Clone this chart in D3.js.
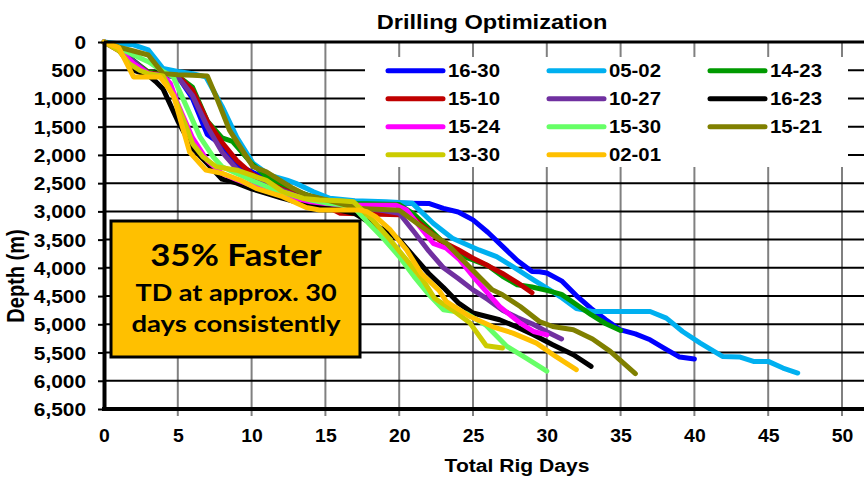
<!DOCTYPE html>
<html>
<head>
<meta charset="utf-8">
<script src="https://cdn.jsdelivr.net/npm/d3@7"></script>
<style>
  body { margin: 0; background: #fff; }
  svg { display: block; }
</style>
</head>
<body>
<div id="chart"></div>
<script>
// well names, in legend (row-major) order, and their line colours
var wells = ["16-30", "05-02", "14-23", "15-10", "10-27", "16-23", "15-24", "15-30", "15-21", "13-30", "02-01"];
var colors = ["#0000FF", "#00B0F0", "#009A00", "#C00000", "#7030A0", "#000000", "#FF00FF", "#66FF66", "#808000", "#CCCC00", "#FFC000"];

// [total rig days, depth m]
var s1630 = [[0,0],[1,120],[2,330],[3,560],[4,590],[5,610],[6,1000],[7,1640],[8,1830],[9,2180],[10,2300],[11,2420],[12,2560],[13,2660],[14,2730],[15,2790],[16,2830],[17,2850],[19,2850],[22,2860],[23,2946],[24,3010],[25,3150],[26,3370],[27,3620],[28,3870],[29,4066],[29.5,4070],[30,4090],[31,4230],[32,4490],[33,4720],[34,4920],[35,5100],[36,5170],[37,5274],[38,5430],[39,5580],[40,5615]];
var s0502 = [[0,0],[1,30],[2,50],[3,140],[4,470],[5,520],[6,560],[6.9,618],[8,1140],[9,1690],[10.1,2150],[11.2,2357],[12.4,2445],[13,2504],[14.2,2652],[15.3,2769],[17,2810],[19.1,2829],[20.9,2858],[22.3,3211],[23.6,3476],[25.4,3683],[26.6,3801],[27.7,3978],[29.1,4213],[30.2,4390],[30.9,4508],[32,4720],[33.1,4773],[37,4773],[38.1,4891],[39.2,5127],[40.4,5333],[41.9,5569],[43.1,5580],[44,5657],[45,5657],[46,5775],[47,5863]];
var s1423 = [[0,0],[1,100],[2,330],[3,530],[4,570],[5,600],[6,800],[7,1400],[8,1700],[8.7,1760],[9,1850],[10,2150],[11,2380],[12,2520],[13,2640],[14,2730],[15,2800],[16,2840],[17,2860],[20,2880],[21,3050],[22,3300],[23,3550],[24,3760],[25,3860],[26,3960],[27,4150],[28,4300],[29,4340],[30,4400],[31,4470],[32,4650],[33,4830],[34,4990],[35,5110]];
var s1510 = [[0,0],[1,150],[2,350],[3,550],[4,580],[5,600],[6,850],[7,1400],[8,1780],[9,2100],[10,2330],[11,2480],[12,2600],[13,2700],[14,2800],[15,2900],[16,3034],[20.7,3064],[21.8,3300],[22.7,3506],[24,3680],[25,3830],[26,3960],[27,4100],[28,4260],[29,4440]];
var s1027 = [[0,0],[1,130],[2,340],[3,560],[4,590],[5,620],[6,950],[7,1500],[8,1950],[9,2250],[10,2400],[11,2520],[12,2620],[13,2720],[14,2800],[15,2860],[16,2900],[17,2930],[18,2960],[19,2990],[20,3034],[21,3360],[22,3700],[23,4000],[24,4190],[25,4390],[26,4560],[27,4750],[28,4880],[29,4990],[30,5130],[31,5260]];
var s1623 = [[0,0],[1,130],[2,500],[3,590],[3.5,700],[4,830],[5,1400],[6,1880],[7,2150],[8,2430],[9,2500],[10,2600],[11,2680],[12,2760],[13,2830],[14,2890],[15,2940],[16,2980],[17,3040],[18,3200],[19,3330],[20,3500],[21,3800],[22,4100],[23,4350],[24,4620],[25,4800],[26.8,4920],[27.9,5039],[29.1,5186],[30.4,5362],[31.8,5539],[33,5745]];
var s1524 = [[0,0],[1,130],[2,380],[3,560],[4,600],[4.5,736],[5,1100],[6,1700],[7,2100],[8,2330],[9,2440],[10,2540],[11,2600],[12,2690],[13,2770],[14,2830],[15,2860],[16,2880],[17,2890],[19.8,2890],[20.5,2975],[21.4,3270],[22.3,3565],[23.2,3653],[24.1,3860],[25.2,4213],[26.1,4480],[26.8,4685],[28.2,4979],[29.1,5127],[30,5186]];
var s1530 = [[0,0],[1,100],[2,230],[3,350],[4,520],[4.7,618],[5,800],[5.6,1149],[6.5,1680],[7.4,2033],[8,2210],[9,2330],[10,2450],[11,2560],[12,2650],[13,2730],[14,2800],[15,2850],[16,2880],[17,2950],[18,3230],[19,3500],[20,3800],[21,4150],[22,4470],[23,4743],[24.5,4802],[25.9,5020],[27.3,5392],[28.6,5600],[30,5830]];
var s1521 = [[0,0],[1,90],[2,160],[3,230],[4,560],[5,580],[6,590],[7,600],[7.7,1031],[8.5,1561],[10.1,2210],[11,2298],[11.9,2445],[12.8,2592],[13.7,2710],[15.1,2799],[17.3,2950],[20,2980],[21.2,3211],[22.3,3418],[23.2,3565],[24.3,3860],[25.4,4155],[26.3,4390],[27,4478],[28.2,4685],[29.5,4950],[30.4,5039],[31.8,5097],[33.1,5260],[34.3,5480],[36,5875]];
var s1330 = [[0,0],[1,150],[1.7,383],[2.4,500],[3,560],[4,600],[4.9,1061],[5.5,1450],[6,1800],[6.7,2033],[7.6,2210],[9,2270],[10.3,2387],[11,2450],[12.1,2650],[13.5,2770],[14.6,2799],[16,2810],[16.9,2829],[18.2,3152],[19.4,3506],[20.5,3860],[21.6,4213],[22.4,4540],[23.6,4743],[24.8,4979],[25.9,5380],[27,5420]];
var s0201 = [[0,0],[1,100],[2,618],[3.8,618],[4.7,942],[5.2,1400],[5.8,1950],[6.9,2268],[8,2327],[9.2,2445],[10.3,2592],[12.1,2740],[13.7,2930],[14.6,2975],[17.3,2975],[17.8,3005],[18.4,3094],[19.4,3329],[20.5,3683],[21.5,4100],[22.7,4400],[23.2,4600],[24.8,4862],[26.3,5039],[27.7,5156],[29.3,5333],[30.6,5569],[32,5804]];
var series = [s1630, s0502, s1423, s1510, s1027, s1623, s1524, s1530, s1521, s1330, s0201];

var depthTicks = d3.range(0, 6501, 500);
var dayTicks = d3.range(0, 51, 5);
var chartTitle = "Drilling Optimization";
var xTitle = "Total Rig Days";
var yTitle = "Depth (m)";
var noteLines = ["35% Faster", "TD at approx. 30", "days consistently"];

var width = 864, height = 477;
var plotLeft = 104, plotTop = 42, plotBottom = 409, plotRight = 842;
var arial = "'Liberation Sans', Arial, sans-serif";
var calibri = "Lato, 'Open Sans', sans-serif";

var svg = d3.select("#chart").append("svg")
	.attr("width", width)
	.attr("height", height);

var x = d3.scaleLinear().domain([0, 50]).range([plotLeft, plotRight]);
var y = d3.scaleLinear().domain([0, 6500]).range([plotTop, plotBottom]);

// text helper - the picture is a bit stretched sideways
function label(g, px, py, txt, size, sx, anchor, font) {
	return g.append("text")
		.attr("transform", "translate(" + px + "," + py + ") scale(" + sx + ",1)")
		.attr("text-anchor", anchor)
		.style("font-family", font || arial)
		.style("font-weight", "bold")
		.style("font-size", size + "px")
		.style("fill", "#000")
		.text(txt);
}

// gridlines
svg.append("g").selectAll("line")
	.data(dayTicks.filter(function (d) { return d > 0; }))
	.enter().append("line")
	.attr("x1", function (d) { return x(d); })
	.attr("x2", function (d) { return x(d); })
	.attr("y1", plotTop)
	.attr("y2", plotBottom + 7)
	.attr("stroke", "#808080")
	.attr("stroke-width", 2);

svg.append("g").selectAll("line")
	.data(depthTicks.filter(function (d) { return d > 0 && d < 6500; }))
	.enter().append("line")
	.attr("x1", plotLeft)
	.attr("x2", width)
	.attr("y1", function (d) { return y(d); })
	.attr("y2", function (d) { return y(d); })
	.attr("stroke", "#000")
	.attr("stroke-width", 2);

// series
var line = d3.line()
	.x(function (d) { return x(d[0]); })
	.y(function (d) { return y(d[1]); });

svg.append("g").selectAll("path")
	.data(series)
	.enter().append("path")
	.attr("d", line)
	.attr("fill", "none")
	.attr("stroke", function (d, i) { return colors[i]; })
	.attr("stroke-width", 5)
	.attr("stroke-linejoin", "round")
	.attr("stroke-linecap", "round");

// frame
svg.append("line").attr("x1", plotLeft).attr("x2", width).attr("y1", plotTop).attr("y2", plotTop)
	.attr("stroke", "#000").attr("stroke-width", 3);
svg.append("line").attr("x1", plotLeft - 2).attr("x2", width).attr("y1", plotBottom).attr("y2", plotBottom)
	.attr("stroke", "#000").attr("stroke-width", 4);

// y axis
var yAxis = svg.append("g")
	.attr("transform", "translate(" + plotLeft + ",0)")
	.call(d3.axisLeft(y).tickValues(depthTicks).tickFormat(d3.format(",")).tickSize(6).tickSizeOuter(0));
yAxis.select(".domain").attr("stroke", "#000").attr("stroke-width", 4);
yAxis.selectAll(".tick line").attr("stroke", "#000").attr("stroke-width", 2);
yAxis.selectAll(".tick text")
	.attr("x", -18 / 1.16)
	.attr("dy", "0.36em")
	.attr("transform", "scale(1.16,1)")
	.style("font-family", arial)
	.style("font-weight", "bold")
	.style("font-size", "18px")
	.style("fill", "#000");

// x axis labels
var xAxis = svg.append("g")
	.attr("transform", "translate(0," + plotBottom + ")")
	.call(d3.axisBottom(x).tickValues(dayTicks).tickSize(0).tickSizeOuter(0));
xAxis.select(".domain").remove();
xAxis.selectAll(".tick text")
	.attr("y", 33)
	.attr("dy", 0)
	.attr("transform", "scale(1.05,1)")
	.style("font-family", arial)
	.style("font-weight", "bold")
	.style("font-size", "18.5px")
	.style("fill", "#000");

// titles
label(svg, 492, 29, chartTitle, 20, 1.18, "middle");
label(svg, 517, 472, xTitle, 18.5, 1.14, "middle");
svg.append("text")
	.attr("transform", "translate(24,276) scale(1.15,1) rotate(-90)")
	.attr("text-anchor", "middle")
	.style("font-family", arial)
	.style("font-weight", "bold")
	.style("font-size", "20px")
	.text(yTitle);

// legend
var legend = svg.append("g");
legend.append("rect")
	.attr("x", 365).attr("y", 57)
	.attr("width", 483).attr("height", 110)
	.attr("fill", "#fff");
var item = legend.selectAll(".item")
	.data(wells)
	.enter().append("g")
	.attr("class", "item")
	.attr("transform", function (d, i) {
		return "translate(" + (388 + (i % 3) * 161) + "," + (70.7 + Math.floor(i / 3) * 28) + ")";
	});
item.append("line")
	.attr("x1", 0).attr("x2", 55)
	.attr("stroke", function (d, i) { return colors[i]; })
	.attr("stroke-width", 5)
	.attr("stroke-linecap", "round");
item.each(function (d) {
	label(d3.select(this), 60, 6.5, d, 18, 1.13, "start");
});

// call-out box
var note = svg.append("g");
note.append("rect")
	.attr("x", 111).attr("y", 221)
	.attr("width", 249).attr("height", 136)
	.attr("fill", "#FFC000")
	.attr("stroke", "#000")
	.attr("stroke-width", 3);
label(note, 236, 266, noteLines[0], 31, 1.12, "middle", calibri);
label(note, 236, 301, noteLines[1], 22, 1.23, "middle", calibri);
label(note, 236, 332, noteLines[2], 22, 1.25, "middle", calibri);
</script>
</body>
</html>
